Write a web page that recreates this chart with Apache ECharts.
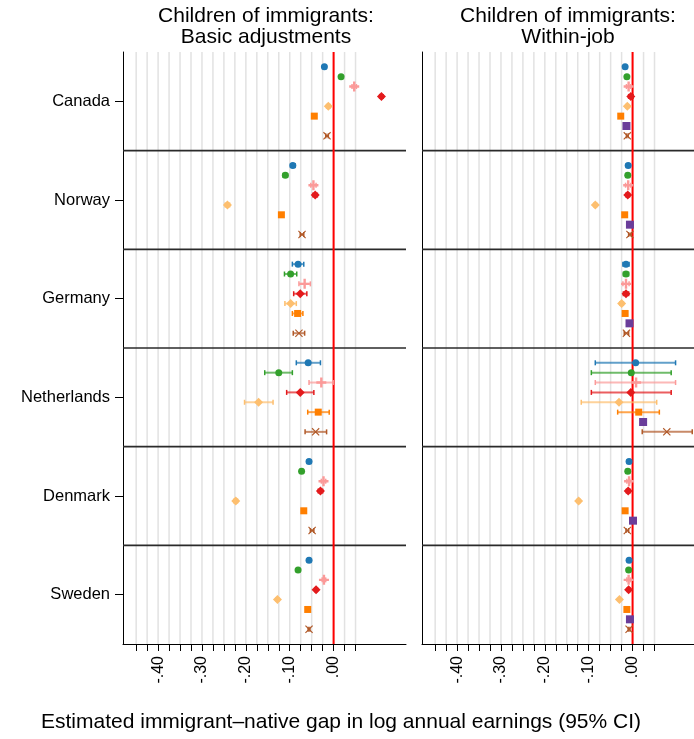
<!DOCTYPE html>
<html>
<head>
<meta charset="utf-8">
<script src="https://cdn.jsdelivr.net/npm/echarts@6/dist/echarts.min.js"></script>
<style>
html,body{margin:0;padding:0;background:#fff;}
#chart{width:694px;height:739px;}
</style>
</head>
<body>
<div id="chart"></div>
<script>
// ---------------- DATA ----------------
const countries = ["Canada", "Norway", "Germany", "Netherlands", "Denmark", "Sweden"];
const panelTitles = ["Children of immigrants:\nBasic adjustments", "Children of immigrants:\nWithin-job"];
const xAxisTitle = "Estimated immigrant\u2013native gap in log annual earnings (95% CI)";
const xLabelValues = [-0.4, -0.3, -0.2, -0.1, 0];
const xTickValues = [-0.45, -0.425, -0.4, -0.375, -0.35, -0.325, -0.3, -0.275, -0.25, -0.225, -0.2,
                     -0.175, -0.15, -0.125, -0.1, -0.075, -0.05, -0.025, 0, 0.025, 0.05];
const separators = [1, 2, 3, 4, 5];

// Panel 1: basic adjustments (estimate, lower, upper) per country
const basicBlueEst   = [-0.021, -0.093, -0.081, -0.058, -0.056, -0.056];
const basicBlueLo    = [-0.024, -0.098, -0.094, -0.085, -0.060, -0.059];
const basicBlueHi    = [-0.018, -0.088, -0.068, -0.030, -0.052, -0.053];
const basicGreenEst  = [0.017, -0.110, -0.098, -0.125, -0.073, -0.081];
const basicGreenLo   = [0.014, -0.115, -0.112, -0.157, -0.077, -0.084];
const basicGreenHi   = [0.020, -0.105, -0.084, -0.094, -0.069, -0.078];
const basicPinkEst   = [0.047, -0.046, -0.066, -0.028, -0.023, -0.022];
const basicPinkLo    = [0.042, -0.052, -0.079, -0.056, -0.028, -0.026];
const basicPinkHi    = [0.052, -0.040, -0.053, -0.001, -0.018, -0.018];
const basicRedEst    = [0.109, -0.042, -0.076, -0.076, -0.030, -0.040];
const basicRedLo     = [0.105, -0.047, -0.091, -0.107, -0.035, -0.043];
const basicRedHi     = [0.113, -0.037, -0.061, -0.045, -0.025, -0.037];
const basicLtOrEst   = [-0.012, -0.242, -0.098, -0.171, -0.223, -0.128];
const basicLtOrLo    = [-0.016, -0.247, -0.111, -0.203, -0.227, -0.131];
const basicLtOrHi    = [-0.008, -0.237, -0.085, -0.138, -0.219, -0.125];
const basicOrangeEst = [-0.044, -0.119, -0.082, -0.035, -0.068, -0.059];
const basicOrangeLo  = [-0.047, -0.123, -0.094, -0.059, -0.071, -0.062];
const basicOrangeHi  = [-0.041, -0.115, -0.070, -0.010, -0.065, -0.056];
const basicBrownEst  = [-0.015, -0.072, -0.079, -0.041, -0.049, -0.056];
const basicBrownLo   = [-0.018, -0.076, -0.092, -0.065, -0.053, -0.058];
const basicBrownHi   = [-0.012, -0.068, -0.066, -0.016, -0.045, -0.054];

// Panel 2: within-job
const jobBlueEst   = [-0.017, -0.010, -0.015, 0.007, -0.008, -0.008];
const jobBlueLo    = [-0.019, -0.014, -0.022, -0.085, -0.012, -0.010];
const jobBlueHi    = [-0.015, -0.006, -0.008, 0.098, -0.004, -0.006];
const jobGreenEst  = [-0.013, -0.011, -0.015, -0.003, -0.011, -0.009];
const jobGreenLo   = [-0.015, -0.015, -0.021, -0.094, -0.015, -0.011];
const jobGreenHi   = [-0.011, -0.007, -0.009, 0.088, -0.007, -0.007];
const jobPinkEst   = [-0.009, -0.010, -0.015, 0.008, -0.008, -0.009];
const jobPinkLo    = [-0.014, -0.016, -0.022, -0.085, -0.013, -0.013];
const jobPinkHi    = [-0.004, -0.004, -0.008, 0.098, -0.003, -0.005];
const jobRedEst    = [-0.004, -0.011, -0.015, -0.004, -0.010, -0.009];
const jobRedLo     = [-0.009, -0.015, -0.021, -0.094, -0.014, -0.012];
const jobRedHi     = [0.001, -0.007, -0.009, 0.088, -0.006, -0.006];
const jobLtOrEst   = [-0.012, -0.085, -0.025, -0.031, -0.123, -0.030];
const jobLtOrLo    = [-0.015, -0.088, -0.029, -0.117, -0.126, -0.032];
const jobLtOrHi    = [-0.009, -0.082, -0.021, 0.055, -0.120, -0.028];
const jobOrangeEst = [-0.027, -0.018, -0.017, 0.014, -0.017, -0.013];
const jobOrangeLo  = [-0.029, -0.020, -0.022, -0.034, -0.019, -0.015];
const jobOrangeHi  = [-0.025, -0.016, -0.012, 0.061, -0.015, -0.011];
const jobPurpleEst = [-0.014, -0.006, -0.007, 0.024, 0.001, -0.006];
const jobPurpleLo  = [-0.016, -0.008, -0.009, 0.022, -0.001, -0.008];
const jobPurpleHi  = [-0.012, -0.004, -0.005, 0.026, 0.003, -0.004];
const jobBrownEst  = [-0.012, -0.006, -0.014, 0.078, -0.012, -0.008];
const jobBrownLo   = [-0.014, -0.009, -0.019, 0.022, -0.015, -0.010];
const jobBrownHi   = [-0.010, -0.003, -0.009, 0.136, -0.009, -0.006];

// ---------------- STYLE ----------------
const FONT = "Liberation Sans, Arial, Helvetica, sans-serif";
const PLUS = 'path://M-1.2,-5H1.2V-1.2H5V1.2H1.2V5H-1.2V1.2H-5V-1.2H-1.2Z';
const CROSS = 'path://M-4,-5L0,-1L4,-5L5,-4L1,0L5,4L4,5L0,1L-4,5L-5,4L-1,0L-5,-4Z';
const markerStyles = [
  {color: '#1f78b4', symbol: 'circle', size: 7},
  {color: '#33a02c', symbol: 'circle', size: 7},
  {color: '#fb9a99', symbol: PLUS, size: 10},
  {color: '#e31a1c', symbol: 'diamond', size: 9},
  {color: '#fdbf6f', symbol: 'diamond', size: 9},
  {color: '#ff7f00', symbol: 'rect', size: 7},
  {color: '#6a3d9a', symbol: 'rect', size: 8},
  {color: '#b15928', symbol: CROSS, size: 8}
];

const panels = [
  [[basicBlueEst, basicBlueLo, basicBlueHi], [basicGreenEst, basicGreenLo, basicGreenHi],
   [basicPinkEst, basicPinkLo, basicPinkHi], [basicRedEst, basicRedLo, basicRedHi],
   [basicLtOrEst, basicLtOrLo, basicLtOrHi], [basicOrangeEst, basicOrangeLo, basicOrangeHi],
   null, [basicBrownEst, basicBrownLo, basicBrownHi]],
  [[jobBlueEst, jobBlueLo, jobBlueHi], [jobGreenEst, jobGreenLo, jobGreenHi],
   [jobPinkEst, jobPinkLo, jobPinkHi], [jobRedEst, jobRedLo, jobRedHi],
   [jobLtOrEst, jobLtOrLo, jobLtOrHi], [jobOrangeEst, jobOrangeLo, jobOrangeHi],
   [jobPurpleEst, jobPurpleLo, jobPurpleHi], [jobBrownEst, jobBrownLo, jobBrownHi]]
];

// slot position within each country block (0..1 per block)
function slotY(ci, k) { return ci + 0.15 + 0.1 * k; }

function hexToRgba(hex, a) {
  const n = parseInt(hex.slice(1), 16);
  return 'rgba(' + ((n >> 16) & 255) + ',' + ((n >> 8) & 255) + ',' + (n & 255) + ',' + a + ')';
}

function fmtX(v) {
  const s = Math.abs(v).toFixed(2).replace(/^0/, '');
  return (v < -1e-9 ? '-' : '') + s;
}

const XMIN = -0.48;
const XMAXS = [0.165, 0.14];
const grids = [
  {left: 123, top: 52, width: 283, height: 592},
  {left: 422, top: 52, width: 272, height: 592}
];

const xAxes = [], yAxes = [], series = [];
for (let p = 0; p < 2; p++) {
  xAxes.push({
    type: 'value', gridIndex: p, min: XMIN, max: XMAXS[p], position: 'bottom',
    axisLine: {show: true, onZero: false, lineStyle: {color: '#000', width: 1}},
    axisTick: {show: true, customValues: xTickValues, length: 7, lineStyle: {color: '#000', width: 1}},
    axisLabel: {show: true, customValues: xLabelValues, rotate: 90, margin: 12,
      formatter: fmtX, color: '#000', fontSize: 16, fontFamily: FONT},
    splitLine: {show: false}
  });
  yAxes.push({
    type: 'value', gridIndex: p, min: 0, max: 6, inverse: true, position: 'left',
    axisLine: {show: true, onZero: false, lineStyle: {color: '#000', width: 1}},
    axisTick: {show: p === 0, customValues: countries.map((c, i) => i + 0.5), length: 8,
      lineStyle: {color: '#000', width: 1}},
    axisLabel: {show: p === 0, customValues: countries.map((c, i) => i + 0.5), margin: 13,
      formatter: v => countries[Math.round(v - 0.5)] || '', color: '#000', fontSize: 16.5, fontFamily: FONT},
    splitLine: {show: false}
  });

  // vertical light gridlines
  series.push({
    type: 'custom', xAxisIndex: p, yAxisIndex: p, silent: true, z: 1,
    data: xTickValues.map(v => [v, 0]), encode: {x: 0, y: 1},
    renderItem: (params, api) => {
      const a = api.coord([api.value(0), 0]);
      const b = api.coord([api.value(0), 6]);
      return {type: 'line', shape: {x1: a[0], y1: a[1], x2: b[0], y2: b[1]},
        style: {stroke: '#e2e2e2', lineWidth: 1.5}};
    }
  });
  // horizontal separators between countries
  series.push({
    type: 'custom', xAxisIndex: p, yAxisIndex: p, silent: true, z: 2,
    data: separators.map(v => [0, v]), encode: {x: 0, y: 1},
    renderItem: (params, api) => {
      const cs = params.coordSys;
      const y = api.coord([0, api.value(1)])[1];
      return {type: 'line', shape: {x1: cs.x, y1: y, x2: cs.x + cs.width, y2: y},
        style: {stroke: '#2a2a2a', lineWidth: 1.6}};
    }
  });
  // zero reference line
  series.push({
    type: 'custom', xAxisIndex: p, yAxisIndex: p, silent: true, z: 3,
    data: [[0, 0]], encode: {x: 0, y: 1},
    renderItem: (params, api) => {
      const a = api.coord([0, 0]);
      const b = api.coord([0, 6]);
      return {type: 'line', shape: {x1: a[0], y1: a[1], x2: b[0], y2: b[1]},
        style: {stroke: '#ff0000', lineWidth: 2}};
    }
  });

  panels[p].forEach((triple, k) => {
    if (!triple) return;
    const [est, lo, hi] = triple;
    const st = markerStyles[k];
    // confidence intervals
    series.push({
      type: 'custom', xAxisIndex: p, yAxisIndex: p, silent: true, z: 4,
      data: countries.map((c, i) => [lo[i], hi[i], slotY(i, k)]),
      encode: {x: [0, 1], y: 2},
      renderItem: (params, api) => {
        const y = api.value(2);
        const a = api.coord([api.value(0), y]);
        const b = api.coord([api.value(1), y]);
        const h = 2.5;
        return {type: 'group', children: [
          {type: 'line', shape: {x1: a[0], y1: a[1], x2: b[0], y2: b[1]},
            style: {stroke: hexToRgba(st.color, 0.7), lineWidth: 2}},
          {type: 'line', shape: {x1: a[0], y1: a[1] - h, x2: a[0], y2: a[1] + h},
            style: {stroke: st.color, lineWidth: 1.5}},
          {type: 'line', shape: {x1: b[0], y1: b[1] - h, x2: b[0], y2: b[1] + h},
            style: {stroke: st.color, lineWidth: 1.5}}
        ]};
      }
    });
    // point estimates
    series.push({
      type: 'scatter', xAxisIndex: p, yAxisIndex: p, z: 5,
      data: countries.map((c, i) => [est[i], slotY(i, k)]),
      symbol: st.symbol, symbolSize: st.size,
      itemStyle: {color: st.color, opacity: 1},
      emphasis: {disabled: true}
    });
  });
}

const chart = echarts.init(document.getElementById('chart'), null, {renderer: 'canvas'});
chart.setOption({
  backgroundColor: '#fff',
  animation: false,
  grid: grids,
  xAxis: xAxes,
  yAxis: yAxes,
  series: series,
  graphic: [
    {type: 'text', x: 266, y: 6, style: {text: panelTitles[0], fontSize: 21, fontFamily: FONT,
      fill: '#000', textAlign: 'center', lineHeight: 21}},
    {type: 'text', x: 568, y: 6, style: {text: panelTitles[1], fontSize: 21, fontFamily: FONT,
      fill: '#000', textAlign: 'center', lineHeight: 21}},
    {type: 'text', x: 341, y: 712, style: {text: xAxisTitle, fontSize: 21, fontFamily: FONT,
      fill: '#000', textAlign: 'center'}}
  ]
});
</script>
</body>
</html>
